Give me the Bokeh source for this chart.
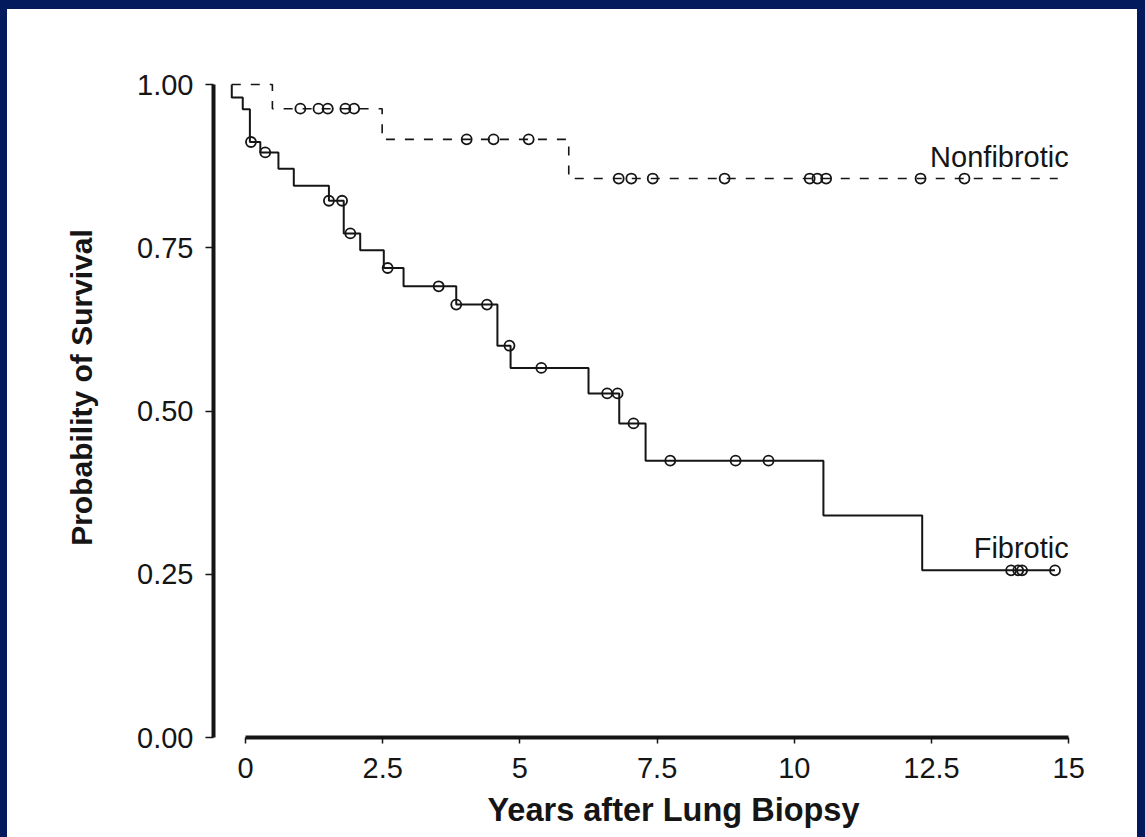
import numpy as np
from bokeh.plotting import figure
from bokeh.models import Range1d, FixedTicker
from bokeh.core.properties import value
from bokeh.embed import file_html
from bokeh.resources import INLINE

# ---------------- data ----------------
x_ticks = [0, 2.5, 5, 7.5, 10, 12.5, 15]
x_tick_labels = ["0", "2.5", "5", "7.5", "10", "12.5", "15"]
y_ticks = [0, 0.25, 0.5, 0.75, 1.0]
y_tick_labels = ["0.00", "0.25", "0.50", "0.75", "1.00"]

x_title = "Years after Lung Biopsy"
y_title = "Probability of Survival"
series_names = ["Nonfibrotic", "Fibrotic"]

start_time = -0.25

# Fibrotic (solid)
fib_event_times = [-0.25, -0.05, 0.08, 0.27, 0.60, 0.88, 1.52, 1.79, 2.09, 2.52,
                   2.88, 3.84, 4.59, 4.83, 6.25, 6.81, 7.29, 10.53, 12.33]
fib_survival = [0.980, 0.962, 0.912, 0.896, 0.871, 0.845, 0.822, 0.772, 0.746, 0.719,
                0.691, 0.663, 0.600, 0.566, 0.527, 0.481, 0.424, 0.340, 0.256]
fib_censor_times = [0.10, 0.36, 1.52, 1.76, 1.91, 2.59, 3.52, 3.84, 4.40, 4.81,
                    5.39, 6.59, 6.78, 7.07, 7.74, 8.93, 9.53, 13.95, 14.08, 14.15, 14.75]
fib_end_time = 14.75

# Nonfibrotic (dashed)
nonfib_event_times = [0.49, 2.49, 5.89]
nonfib_survival = [0.963, 0.916, 0.856]
nonfib_censor_times = [1.00, 1.33, 1.50, 1.82, 1.98, 4.03, 4.52, 5.16, 6.80, 7.03,
                       7.42, 8.73, 10.28, 10.42, 10.58, 12.30, 13.10]
nonfib_end_time = 14.8

# ---------------- helpers ----------------
def step_xy(times, surv, end):
    xs = [start_time] + list(times) + [end]
    ys = [1.0] + list(surv) + [surv[-1]]
    return xs, ys

def surv_at(ts, times, surv):
    times = np.asarray(times)
    vals = np.concatenate([[1.0], np.asarray(surv)])
    idx = np.searchsorted(times, np.asarray(ts), side="right")
    return vals[idx]

INK = "#151515"
NAVY = "#031a5c"
FONT = "Liberation Sans"

p = figure(width=1130, height=828, output_backend="svg", toolbar_location=None,
           x_range=Range1d(-0.583, 16.18), y_range=Range1d(0, 1.072),
           min_border_left=206, min_border_right=4, min_border_top=28,
           min_border_bottom=100, outline_line_color=None)
p.background_fill_color = "white"
p.border_fill_color = "white"
p.outline_line_color = None
p.grid.visible = False
p.styles = {"background-color": "white"}

# curves
fx, fy = step_xy(fib_event_times, fib_survival, fib_end_time)
p.step(fx, fy, mode="after", line_color=INK, line_width=2)
nx, ny = step_xy(nonfib_event_times, nonfib_survival, nonfib_end_time)
p.step(nx, ny, mode="after", line_color=INK, line_width=1.6, line_dash="9 10")

# censor marks
p.scatter(fib_censor_times, surv_at(fib_censor_times, fib_event_times, fib_survival),
          marker="circle", size=10, fill_alpha=0, line_color=INK, line_width=1.8)
p.scatter(nonfib_censor_times, surv_at(nonfib_censor_times, nonfib_event_times, nonfib_survival),
          marker="circle", size=10, fill_alpha=0, line_color=INK, line_width=1.8)

# series labels
p.text(x=[x_ticks[-1], x_ticks[-1]], y=[nonfib_survival[-1], fib_survival[-1]],
       text=series_names, text_align="right", text_baseline="alphabetic",
       y_offset=-22, text_font=value(FONT), text_font_size="29px", text_color=INK)

# axes
xa = p.xaxis[0]
xa.ticker = FixedTicker(ticks=x_ticks)
xa.major_label_overrides = dict(zip(x_ticks, x_tick_labels))
xa.bounds = (x_ticks[0], x_ticks[-1])
xa.axis_line_width = 4
xa.axis_line_color = INK
xa.major_tick_out = 6
xa.major_tick_in = 0
xa.major_tick_line_width = 1.5
xa.major_tick_line_color = INK
xa.minor_tick_line_color = None
xa.major_label_standoff = 14
xa.major_label_text_font = FONT
xa.major_label_text_font_size = "29px"
xa.major_label_text_color = INK
xa.axis_label = x_title
xa.axis_label_text_font = FONT
xa.axis_label_text_font_style = "bold"
xa.axis_label_text_font_size = "32.5px"
xa.axis_label_text_color = INK
xa.axis_label_standoff = 11

ya = p.yaxis[0]
ya.ticker = FixedTicker(ticks=y_ticks)
ya.major_label_overrides = dict(zip(y_ticks, y_tick_labels))
ya.bounds = (y_ticks[0], y_ticks[-1])
ya.axis_line_width = 4
ya.axis_line_color = INK
ya.major_tick_out = 8
ya.major_tick_in = 0
ya.major_tick_line_width = 1.5
ya.major_tick_line_color = INK
ya.minor_tick_line_color = None
ya.major_label_standoff = 12
ya.major_label_text_font = FONT
ya.major_label_text_font_size = "29px"
ya.major_label_text_color = INK
ya.axis_label = y_title
ya.axis_label_text_font = FONT
ya.axis_label_text_font_style = "bold"
ya.axis_label_text_font_size = "30px"
ya.axis_label_text_color = INK
ya.axis_label_standoff = 36

html = file_html(p, INLINE, title="Survival after lung biopsy")
style = ("<style>html,body{margin:0;overflow:hidden;background:%s;}"
         "body{padding:9px 0 0 7px;}</style>" % NAVY)
html = html.replace("</head>", style + "</head>", 1)
open("out.html", "w").write(html)
